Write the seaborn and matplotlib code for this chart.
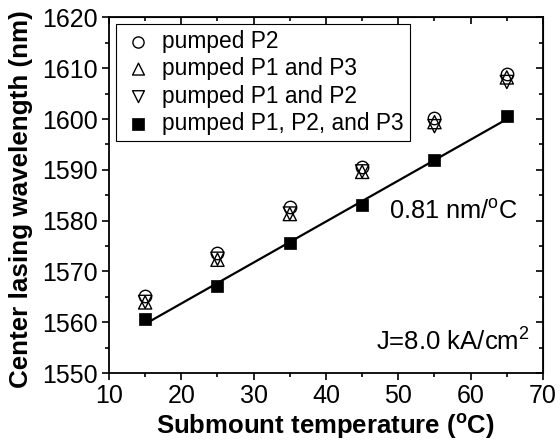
import numpy as np
import pandas as pd
import matplotlib
matplotlib.use("Agg")
import matplotlib.pyplot as plt
import seaborn as sns
from matplotlib.ticker import MultipleLocator

temps = [15, 25, 35, 45, 55, 65]
p2 = [1565.2, 1573.6, 1582.6, 1590.5, 1600.3, 1608.8]
p1_p3 = [1563.9, 1572.3, 1581.3, 1589.6, 1599.4, 1608.2]
p1_p2 = [1564.0, 1572.5, 1581.4, 1589.7, 1598.6, 1607.3]
p1_p2_p3 = [1560.6, 1567.1, 1575.6, 1583.0, 1591.9, 1600.7]

labels = ["pumped P2", "pumped P1 and P3", "pumped P1 and P2", "pumped P1, P2, and P3"]
xlabel = "Submount temperature ($^{\\mathbf{o}}$C)"
ylabel = "Center lasing wavelength (nm)"
slope_text = "0.81 nm/$^{\\mathrm{o}}$C"
j_text = "J=8.0 kA/cm$^{2}$"

sns.set_style("ticks")
plt.rcParams['font.family'] = ['Liberation Sans', 'DejaVu Sans']
plt.rcParams['mathtext.fontset'] = 'custom'
plt.rcParams['mathtext.rm'] = 'Liberation Sans'
plt.rcParams['mathtext.it'] = 'Liberation Sans:italic'
plt.rcParams['mathtext.bf'] = 'Liberation Sans:bold'
plt.rcParams['text.color'] = 'black'
plt.rcParams['axes.labelcolor'] = 'black'
plt.rcParams['xtick.color'] = 'black'
plt.rcParams['ytick.color'] = 'black'
plt.rcParams['axes.edgecolor'] = 'black'

fig = plt.figure(figsize=(5.6, 4.43), dpi=100)
ax = fig.add_axes([0.1946, 0.158, 0.775, 0.8025])

df = pd.DataFrame({"T": temps, "p2": p2, "p13": p1_p3, "p12": p1_p2, "p123": p1_p2_p3})

ms = 80
sns.scatterplot(data=df, x="T", y="p2", marker="o", s=ms, facecolor="white",
                edgecolor="black", linewidth=1.0, ax=ax, label=labels[0], zorder=3)
sns.scatterplot(data=df, x="T", y="p13", marker="^", s=ms + 10, facecolor="none",
                edgecolor="black", linewidth=1.0, ax=ax, label=labels[1], zorder=4)
sns.scatterplot(data=df, x="T", y="p12", marker="v", s=ms + 10, facecolor="none",
                edgecolor="black", linewidth=1.0, ax=ax, label=labels[2], zorder=4)
sns.regplot(data=df, x="T", y="p123", scatter=False, ci=None, truncate=True,
            line_kws=dict(color="black", linewidth=1.6), ax=ax)
sns.scatterplot(data=df, x="T", y="p123", marker="s", s=ms, color="black",
                edgecolor="black", linewidth=0.5, ax=ax, label=labels[3], zorder=5)

ax.set_xlim(10, 70)
ax.set_ylim(1550, 1620)
ax.xaxis.set_major_locator(MultipleLocator(10))
ax.xaxis.set_minor_locator(MultipleLocator(5))
ax.yaxis.set_major_locator(MultipleLocator(10))
ax.yaxis.set_minor_locator(MultipleLocator(5))

for s in ax.spines.values():
    s.set_linewidth(1.3)
    s.set_color("black")
    s.set_visible(True)

ax.tick_params(axis="both", which="major", direction="out", length=5, width=1.2,
               labelsize=18, colors="black", pad=3)
ax.tick_params(axis="both", which="minor", direction="out", length=3, width=1.2)
ax.tick_params(top=False, right=False, which="both")

# mirrored inward ticks on top/right
axt = ax.secondary_xaxis("top")
axt.xaxis.set_major_locator(MultipleLocator(10))
axt.xaxis.set_minor_locator(MultipleLocator(5))
axt.tick_params(which="major", direction="in", length=5, width=1.2, labeltop=False)
axt.tick_params(which="minor", direction="in", length=3, width=1.2)
axt.set_xticklabels([])
axr = ax.secondary_yaxis("right")
axr.yaxis.set_major_locator(MultipleLocator(10))
axr.yaxis.set_minor_locator(MultipleLocator(5))
axr.tick_params(which="major", direction="in", length=5, width=1.2, labelright=False)
axr.tick_params(which="minor", direction="in", length=3, width=1.2)
axr.set_yticklabels([])

ax.set_xlabel(xlabel, fontsize=18.5, fontweight="bold", color="black")
ax.set_ylabel(ylabel, fontsize=18.7, fontweight="bold", color="black")
ax.xaxis.set_label_coords(0.499, -0.11)
ax.yaxis.set_label_coords(-0.176, 0.49)

ax.text(0.942, 0.453, slope_text, transform=ax.transAxes, ha="right", va="center",
        fontsize=18.3, color="black")
ax.text(0.97, 0.088, j_text, transform=ax.transAxes, ha="right", va="center",
        fontsize=18.5, color="black")

leg = ax.legend(loc="upper left", bbox_to_anchor=(0.005, 0.995), fontsize=16.4,
                frameon=True, fancybox=False, edgecolor="black", framealpha=1,
                handletextpad=0.3, borderpad=0.25, labelspacing=0.2, handlelength=1.5,
                borderaxespad=0.2, markerscale=0.9, labelcolor="black")
leg.get_frame().set_linewidth(0.8)

fig.savefig("out.png", dpi=100)
